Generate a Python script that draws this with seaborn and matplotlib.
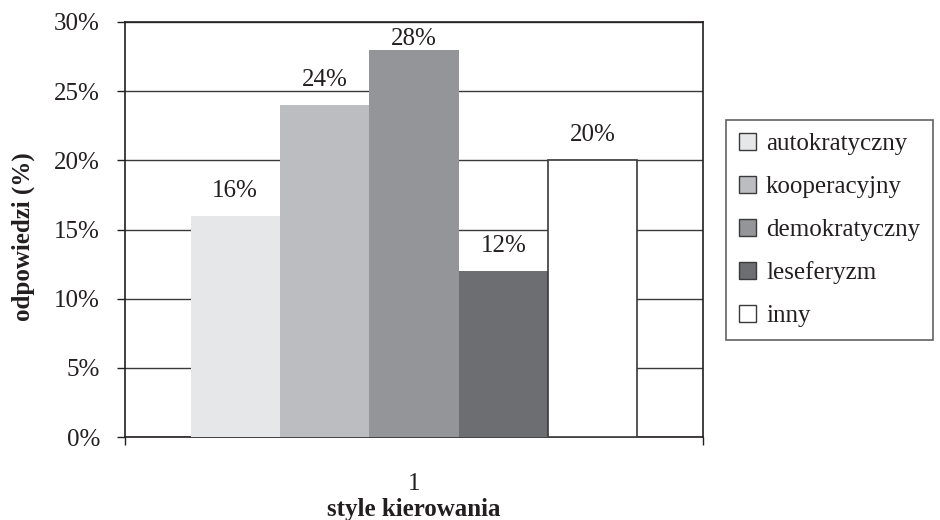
import matplotlib
matplotlib.use("Agg")
import matplotlib.pyplot as plt
from matplotlib.patches import Patch
from matplotlib.ticker import FuncFormatter, FixedLocator
import seaborn as sns
import pandas as pd

# Leadership style survey: share of answers per style
group = ["1"]
styles = ["autokratyczny", "kooperacyjny", "demokratyczny", "leseferyzm", "inny"]
values = [16, 24, 28, 12, 20]
colors = ["#e6e7e9", "#bcbdc0", "#949598", "#6d6e71", "#ffffff"]
y_ticks = [0, 5, 10, 15, 20, 25, 30]

df = pd.DataFrame({"grupa": group * len(styles), "styl": styles, "procent": values})

sns.set_theme(style="white")
plt.rcParams["font.family"] = ["Liberation Serif", "DejaVu Serif"]

fig = plt.figure(figsize=(9.4, 5.2), dpi=100)
ax = fig.add_axes([125 / 940, 1 - 437 / 520, (703 - 125) / 940, (437 - 22) / 520])

sns.barplot(data=df, x="grupa", y="procent", hue="styl", hue_order=styles,
            palette=colors, width=0.773, saturation=1, ax=ax, legend=False,
            linewidth=0, zorder=3)

ax.set_ylim(0, 30)
ax.set_xlim(-0.5, 0.5)

ink = "#231f20"
edge = "#3a3a3a"
top = ax.get_ylim()[1]
for container, style in zip(ax.containers, styles):
    for patch in container:
        if style == "inny":
            patch.set_edgecolor(edge)
            patch.set_linewidth(1.2)
    # labels near the top of the axis sit closer to their bar
    pad = 0 if max(container.datavalues) > top - 3 else 10
    ax.bar_label(container, labels=[f"{v:.0f}%" for v in container.datavalues],
                 padding=pad, fontsize=18, color=ink)

ax.set_yticks(y_ticks)
ax.yaxis.set_major_formatter(FuncFormatter(lambda v, p: f"{v:.0f}%"))
ax.xaxis.set_minor_locator(FixedLocator([-0.5, 0.5]))
ax.grid(axis="y", color="#3a3a3a", linewidth=1.0, zorder=0)
ax.set_axisbelow(True)

for side in ["top", "right", "left", "bottom"]:
    ax.spines[side].set_visible(True)
    ax.spines[side].set_color(ink)
    ax.spines[side].set_linewidth(1.2)

ax.tick_params(axis="y", left=True, length=6, width=1.0, color=ink,
               labelsize=18, labelcolor=ink, pad=12)
ax.tick_params(axis="x", which="major", bottom=False, labelsize=18,
               labelcolor=ink, pad=20)
ax.tick_params(axis="x", which="minor", bottom=True, length=6, width=1.0,
               color=ink)

ax.set_ylabel("odpowiedzi (%)", fontsize=18, fontweight="bold", color=ink)
ax.yaxis.set_label_coords(-0.155, 0.484)
ax.set_xlabel("style kierowania", fontsize=18, fontweight="bold", color=ink,
              labelpad=2)

handles = [Patch(facecolor=c, edgecolor=edge, linewidth=1.0, label=s)
           for c, s in zip(colors, styles)]
leg = fig.legend(handles=handles, loc="center left",
                 bbox_to_anchor=(726 / 940, 1 - 230 / 520), frameon=True,
                 fancybox=False, fontsize=18, handlelength=0.7, handleheight=0.7,
                 handletextpad=0.4, labelspacing=0.82, borderpad=0.5,
                 borderaxespad=0)
leg.get_frame().set_edgecolor("#3a3a3a")
leg.get_frame().set_linewidth(1.2)
for t in leg.get_texts():
    t.set_color(ink)

fig.savefig("out.png", dpi=100)
